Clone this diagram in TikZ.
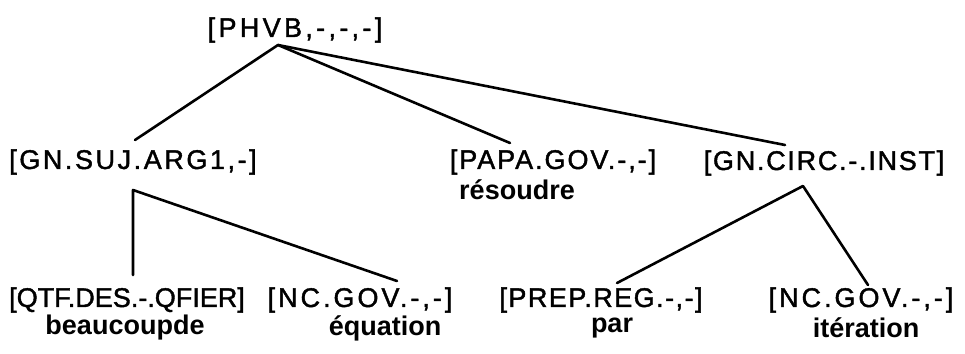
\documentclass[tikz,border=0pt]{standalone}
\usepackage{fontspec}
\setmainfont{Liberation Sans}
\newfontfamily\labfont[FakeBold=1.5]{Liberation Sans}
\begin{document}
\begin{tikzpicture}[x=1pt,y=-1pt,
  lab/.style={font=\labfont\addfontfeature{LetterSpace=#1}\fontsize{27}{30}\selectfont, inner sep=0pt, anchor=center},
  word/.style={font=\bfseries\fontsize{27}{30}\selectfont, inner sep=0pt, anchor=center},
  edge/.style={line width=2.6pt, line cap=round, line join=round}]
\useasboundingbox (0,0) rectangle (965,353);
% nodes
\node[lab=12.3] (root) at (295,30) {[PHVB,-,-,-]};
\node[lab=9.5] (gnsuj) at (133,162) {[GN.SUJ.ARG1,-]};
\node[lab=7.2] (papa) at (553,162) {[PAPA.GOV.-,-]};
\node[word] (resoudre) at (517,190) {résoudre};
\node[lab=6.4] (gncirc) at (824,163) {[GN.CIRC.-.INST]};
\node[lab=0] (qtf) at (127,300) {[QTF.DES.-.QFIER]};
\node[word] (beaucoup) at (125,328) {beaucoupde};
\node[lab=11] (nc1) at (360,300) {[NC.GOV.-,-]};
\node[word] (equation) at (385,328) {équation};
\node[lab=5.4] (prep) at (601,300) {[PREP.REG.-,-]};
\node[word] (par) at (612,328) {par};
\node[lab=11] (nc2) at (861,300) {[NC.GOV.-,-]};
\node[word] (iteration) at (866,328) {itération};
% attachment points
\coordinate (rA) at (278,45);
\coordinate (sA) at (133,190);
\coordinate (cA) at (803,186);
\coordinate (gnsujT) at (135,140);
\coordinate (papaT) at (510,143);
\coordinate (gncircT) at (785,145);
\coordinate (qtfT) at (133,275);
\coordinate (nc1T) at (397,281);
\coordinate (prepT) at (617,283);
\coordinate (nc2T) at (868,285);
% connectors
\draw[edge] (gnsujT) -- (rA) -- (papaT);
\draw[edge] (rA) -- (gncircT);
\draw[edge] (qtfT) -- (sA) -- (nc1T);
\draw[edge] (prepT) -- (cA) -- (nc2T);
\end{tikzpicture}
\end{document}
